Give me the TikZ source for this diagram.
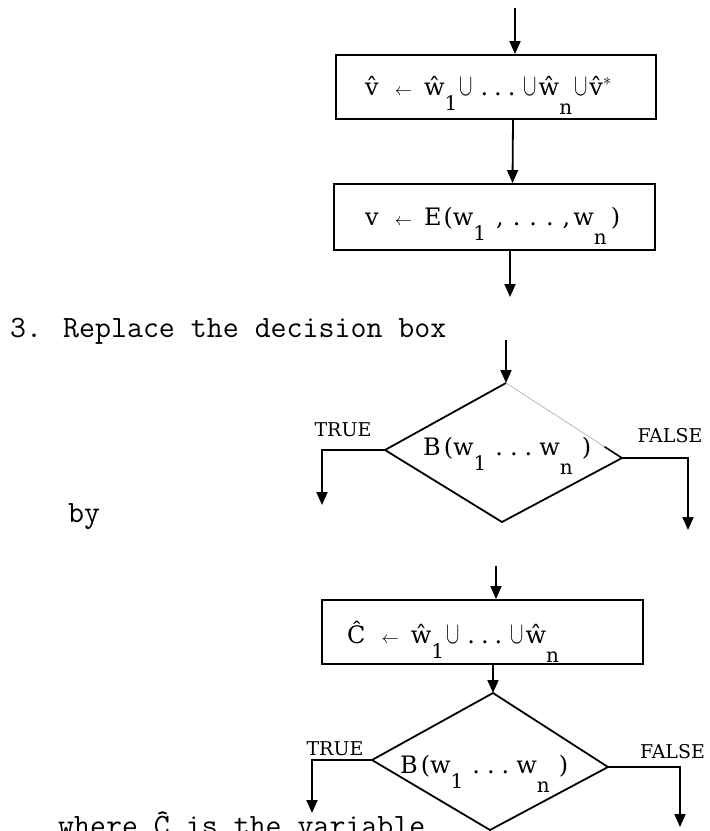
\documentclass[tikz,border=0pt]{standalone}
\usepackage{fontspec}
\usepackage{graphicx}
\newfontfamily\labelfont{DejaVu Serif}
\usetikzlibrary{arrows.meta,calc}
\newcommand{\lowsub}[2][15pt]{\raisebox{-#1}{\fontsize{20}{20}\selectfont #2}}
\newcommand{\sarr}{\hspace{16pt}{\fontsize{18}{18}\selectfont$\leftarrow$}\hspace{12pt}}
\newcommand{\tdots}[1]{\hspace{#1}.\hspace{#1}.\hspace{#1}.\hspace{#1}}
\newcommand{\cupp}{\hspace{2pt}\scalebox{0.8}[1.25]{$\cup$}\hspace{2pt}}
\tikzset{
  boxnode/.style={draw, line width=1.8pt, inner sep=0pt, rectangle},
  arr/.style={line width=1.8pt, -{Triangle[width=11pt,length=13pt]}},
  plain/.style={line width=1.8pt},
  mathlbl/.style={inner sep=0pt, font=\fontsize{24}{24}\selectfont\labelfont},
  caplbl/.style={inner sep=0pt, font=\fontsize{19}{19}\selectfont\labelfont},
  ttlbl/.style={inner sep=0pt, font=\fontsize{31}{31}\selectfont\ttfamily}
}
\begin{document}
\begin{tikzpicture}[x=1pt,y=-1pt]
\useasboundingbox (0,0) rectangle (710,831);
% ---------- top part ----------
\coordinate (a0) at (515,8);
\node[boxnode, minimum width=320pt, minimum height=64pt] (b1) at (496,87) {};
\node[mathlbl, anchor=base west] (t1) at (365,95)
  {\^{v}\sarr\^{w}\lowsub{1}\cupp\tdots{6pt}\cupp\^{w}\lowsub[19pt]{n}\cupp\^{v}$^{*}$};
\node[boxnode, minimum width=321pt, minimum height=66pt] (b2) at (494.5,217) {};
\node[mathlbl, anchor=base west] (t2) at (365,225)
  {v\sarr E\hspace{2pt}(w\lowsub{1}\hspace{10pt},\tdots{9pt},\hspace{3pt}w\lowsub[19pt]{n}\hspace{4pt})};
\coordinate (a2) at (510,297);
\draw[arr] (a0) -- (a0 |- b1.north);
\draw[arr] ([xshift=17pt]b1.south) -- ([xshift=18pt]b2.north);
\draw[arr] ([xshift=15.5pt]b2.south) -- (a2);
% ---------- text ----------
\node[ttlbl, anchor=base west] (n3) at (10,337) {3.};
\node[ttlbl, anchor=base west] (rep) at (63,337) {Replace the decision box};
\node[ttlbl, anchor=base west] (by) at (68,522) {by};
% ---------- first decision ----------
\coordinate (a3) at (506,340);
\coordinate (d1n) at (506,383);
\coordinate (d1w) at (385,450);
\coordinate (d1e) at (622,458);
\coordinate (d1s) at (502,522);
\draw[plain, line join=miter] (d1e) -- (d1s) -- (d1w) -- (d1n);
\draw[gray!55, line width=0.8pt] (d1n) -- (d1e);
\draw[line width=1.6pt] ($(d1n)!0.85!(d1e)$) -- (d1e);
\draw[arr] (a3) -- (d1n);
\node[mathlbl, anchor=base west] (bb1) at (423,455) {B\hspace{3pt}(w\lowsub{1}\hspace{2pt}\tdots{7pt}w\lowsub[19pt]{n}\hspace{9pt})};
\node[caplbl, anchor=base] (tr1) at (343,436) {TRUE};
\node[caplbl, anchor=base] (fa1) at (670,442) {FALSE};
\coordinate (te1) at (322,505);
\coordinate (fe1) at (688,530);
\draw[arr] (d1w) -| (te1);
\draw[arr] (d1e) -| (fe1);
% ---------- replacement ----------
\coordinate (a4) at (496,566);
\node[boxnode, minimum width=321pt, minimum height=64pt] (b3) at (482.5,632) {};
\node[mathlbl, anchor=base west] (t3) at (347,643)
  {\^{C}\sarr\^{w}\lowsub{1}\cupp\tdots{6pt}\cupp\^{w}\lowsub[19pt]{n}};
\draw[arr] (a4) -- (a4 |- b3.north);
\coordinate (d2n) at (493,693);
\coordinate (d2w) at (372,760);
\coordinate (d2e) at (608,767);
\coordinate (d2s) at (490,830);
\draw[plain, line join=miter] (d2n) -- (d2e) -- (d2s) -- (d2w) -- cycle;
\draw[arr] ([xshift=10.5pt]b3.south) -- (d2n);
\node[mathlbl, anchor=base west] (bb2) at (400,773) {B\hspace{3pt}(w\lowsub{1}\hspace{2pt}\tdots{7pt}w\lowsub[19pt]{n}\hspace{9pt})};
\node[caplbl, anchor=base] (tr2) at (335,755) {TRUE};
\node[caplbl, anchor=base west] (fa2) at (640,758) {FALSE};
\coordinate (te2) at (312,813);
\coordinate (fe2) at (680,827);
\draw[arr] (d2w) -| (te2);
\draw[arr] (d2e) -| (fe2);
% ---------- cut-off last line ----------
\node[ttlbl, anchor=base west] (wh) at (58,835) {where \^{C} is the variable};
\end{tikzpicture}
\end{document}
